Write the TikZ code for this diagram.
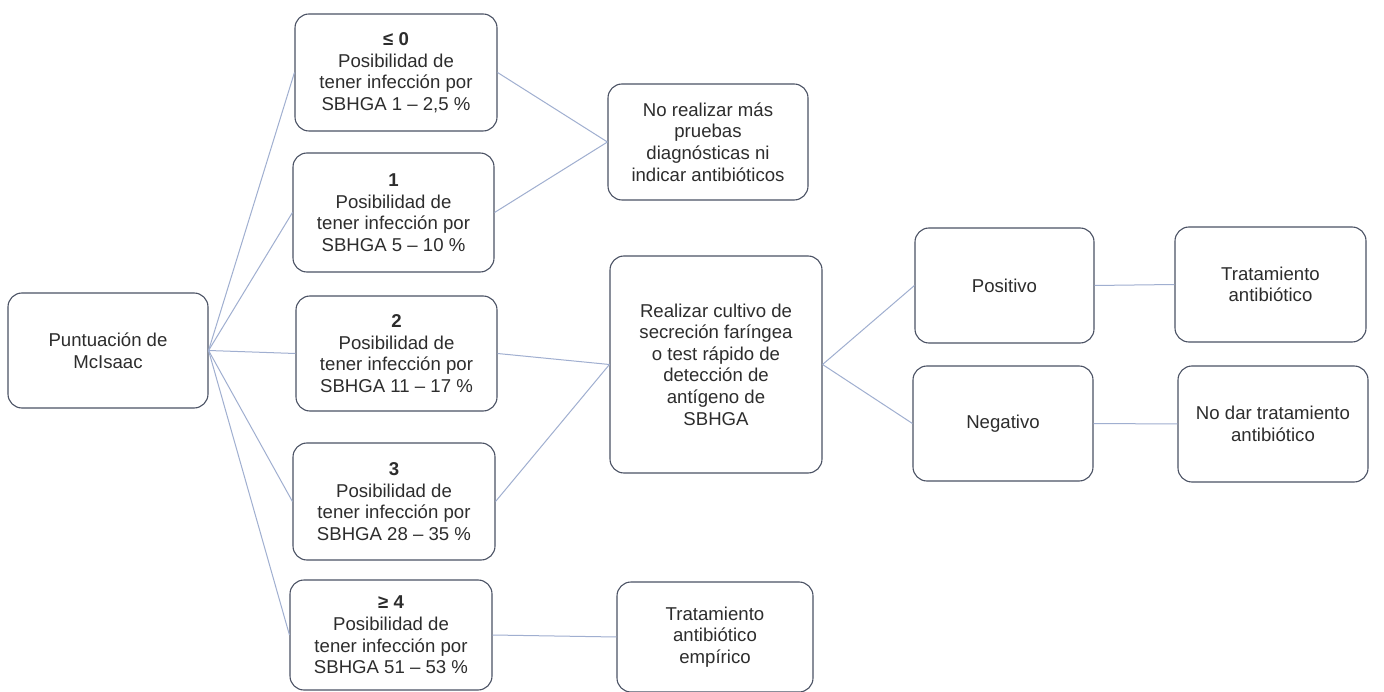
\documentclass[tikz,border=0pt]{standalone}
\usepackage{fontspec}
\setmainfont{Liberation Sans}
\definecolor{boxc}{RGB}{75,82,100}
\definecolor{linec}{RGB}{160,175,208}
\definecolor{txtc}{RGB}{45,45,45}
\tikzset{
  bx/.style={draw=boxc, line width=1.1pt, rounded corners=14pt, align=center, inner sep=0pt,
    text=txtc, font=\fontsize{18.6}{21.6}\selectfont},
  cn/.style={draw=linec, line width=1pt}
}
\begin{document}
\begin{tikzpicture}[x=1pt,y=-1pt]
\useasboundingbox (0,0) rectangle (1384,692);
\fill[white] (0,0) rectangle (1384,692);
\node[bx, minimum width=200, minimum height=115] (root) at (108,350.5) {Puntuación de\\McIsaac};
\node[bx, minimum width=202, minimum height=117] (s0) at (396,72.5) {\textbf{≤ 0}\\Posibilidad de\\tener infección por\\SBHGA 1 – 2,5 \%};
\node[bx, minimum width=201, minimum height=119] (s1) at (393.5,212.5) {\textbf{1}\\Posibilidad de\\tener infección por\\SBHGA 5 – 10 \%};
\node[bx, minimum width=201, minimum height=115] (s2) at (396.5,353.5) {\textbf{2}\\Posibilidad de\\tener infección por\\SBHGA 11 – 17 \%};
\node[bx, minimum width=202, minimum height=117] (s3) at (394,501.5) {\textbf{3}\\Posibilidad de\\tener infección por\\SBHGA 28 – 35 \%};
\node[bx, minimum width=202, minimum height=110] (s4) at (391,635) {\textbf{≥ 4}\\Posibilidad de\\tener infección por\\SBHGA 51 – 53 \%};
\node[bx, minimum width=200, minimum height=116] (nr) at (708,142) {No realizar más\\pruebas\\diagnósticas ni\\indicar antibióticos};
\node[bx, minimum width=212, minimum height=217] (rc) at (716,364.5) {Realizar cultivo de\\secreción faríngea\\o test rápido de\\detección de\\antígeno de\\SBHGA};
\node[bx, minimum width=196, minimum height=110] (te) at (715,637) {Tratamiento\\antibiótico\\empírico};
\node[bx, minimum width=179, minimum height=115] (po) at (1004.5,285.5) {Positivo};
\node[bx, minimum width=180, minimum height=115] (ne) at (1003,423.5) {Negativo};
\node[bx, minimum width=191, minimum height=115] (ta) at (1270.5,284.5) {Tratamiento\\antibiótico};
\node[bx, minimum width=190, minimum height=116] (nd) at (1273,424) {No dar tratamiento\\antibiótico};
\foreach \t in {s0,s1,s2,s3,s4} \draw[cn] (root.east) -- (\t.west);
\draw[cn] (s0.east) -- (nr.west);
\draw[cn] (s1.east) -- (nr.west);
\draw[cn] (s2.east) -- (rc.west);
\draw[cn] (s3.east) -- (rc.west);
\draw[cn] (s4.east) -- (te.west);
\draw[cn] (rc.east) -- (po.west);
\draw[cn] (rc.east) -- (ne.west);
\draw[cn] (po.east) -- (ta.west);
\draw[cn] (ne.east) -- (nd.west);
\end{tikzpicture}
\end{document}
